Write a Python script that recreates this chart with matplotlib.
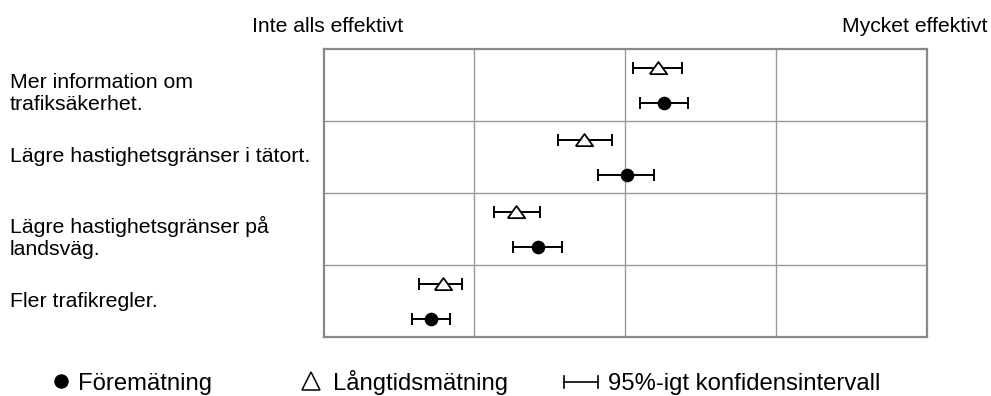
import matplotlib
matplotlib.use('Agg')
import matplotlib.pyplot as plt
from matplotlib.lines import Line2D

plt.rcParams['font.family'] = ['Liberation Sans', 'DejaVu Sans']

W, H = 991, 396

labels = ['Mer information om\ntrafiksäkerhet.',
          'Lägre hastighetsgränser i tätort.',
          'Lägre hastighetsgränser på\nlandsväg.',
          'Fler trafikregler.']

# Föremätning (filled circle)
fore_mean = [3.26, 3.01, 2.42, 1.71]
fore_lo = [3.10, 2.82, 2.26, 1.585]
fore_hi = [3.42, 3.19, 2.58, 1.84]

# Långtidsmätning (open triangle)
lang_mean = [3.22, 2.73, 2.28, 1.79]
lang_lo = [3.055, 2.555, 2.13, 1.635]
lang_hi = [3.38, 2.915, 2.435, 1.92]

scale_left = 'Inte alls effektivt'
scale_right = 'Mycket effektivt'
legend_labels = ['Föremätning', 'Långtidsmätning', '95%-igt konfidensintervall']


def px(x, y):
    return x / W, 1 - y / H


fig = plt.figure(figsize=(W / 100, H / 100), dpi=100)
ax = fig.add_axes([323.5 / W, 1 - 336.7 / H, 603 / W, 288.2 / H])

rows = range(len(labels))
y_lang = [i + 0.27 for i in rows]
y_fore = [i + 0.755 for i in rows]

tri = [(-1, -0.65), (1, -0.65), (0, 0.75), (-1, -0.65)]

err_l = [[m - lo for m, lo in zip(lang_mean, lang_lo)],
         [hi - m for m, hi in zip(lang_mean, lang_hi)]]
err_f = [[m - lo for m, lo in zip(fore_mean, fore_lo)],
         [hi - m for m, hi in zip(fore_mean, fore_hi)]]

ax.errorbar(lang_mean, y_lang, xerr=err_l, fmt='none', ecolor='black',
            elinewidth=1.4, capsize=4.6, capthick=1.4, zorder=3)
ax.plot(lang_mean, y_lang, linestyle='none', marker=tri, markersize=12.5,
        markerfacecolor='white', markeredgecolor='black', markeredgewidth=1.3, zorder=4)
ax.errorbar(fore_mean, y_fore, xerr=err_f, fmt='none', ecolor='black',
            elinewidth=1.4, capsize=4.6, capthick=1.4, zorder=3)
ax.plot(fore_mean, y_fore, linestyle='none', marker='o', markersize=8.8,
        color='black', zorder=4)

ax.set_xlim(1, 5)
ax.set_ylim(4, 0)
ax.set_xticks([2, 3, 4])
ax.set_yticks([1, 2, 3])
ax.grid(True, color='#999999', linewidth=1.0)
ax.tick_params(length=0, labelbottom=False, labelleft=False)
for s in ax.spines.values():
    s.set_color('#888888')
    s.set_linewidth(1.6)

# row labels, one baseline per line
first_base = [88.3, 161.7, 233, 306.7]
for lab, yb in zip(labels, first_base):
    for k, line in enumerate(lab.split('\n')):
        fig.text(*px(10, yb + k * 21.8), line, fontsize=15.3, va='baseline', ha='left')

fig.text(*px(252, 31.7), scale_left, fontsize=15.2, va='baseline', ha='left')
fig.text(*px(988, 31.7), scale_right, fontsize=15.2, va='baseline', ha='right')

# legend
ly = 381
fig.add_artist(Line2D([61 / W], [1 - ly / H], marker='o', markersize=9.4,
                      color='black', linestyle='none'))
fig.add_artist(Line2D([311 / W], [1 - ly / H], marker='^', markersize=13,
                      markerfacecolor='white', markeredgecolor='black',
                      markeredgewidth=1.1, linestyle='none'))
fig.add_artist(Line2D([564 / W, 598 / W], [1 - (ly + 1) / H, 1 - (ly + 1) / H], color='black', lw=1.2))
for xc in (564, 598):
    fig.add_artist(Line2D([xc / W, xc / W], [1 - (ly - 5) / H, 1 - (ly + 7) / H], color='black', lw=1.2))

for xt, t in zip([78, 333, 608], legend_labels):
    fig.text(*px(xt, ly + 9), t, fontsize=17.2, va='baseline', ha='left')

fig.savefig('out.png', dpi=100)
